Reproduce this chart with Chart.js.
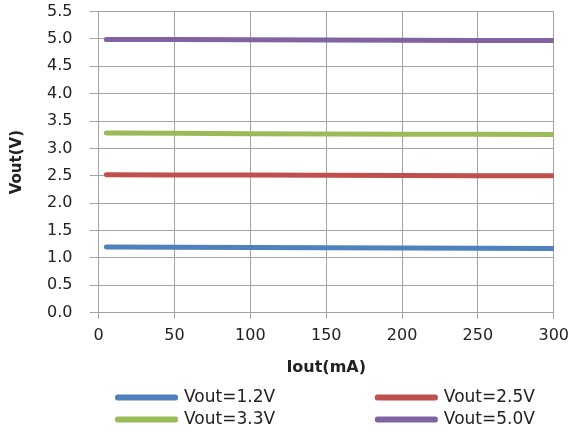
<!DOCTYPE html>
<html><head><meta charset="utf-8">
<script src="https://cdn.jsdelivr.net/npm/chart.js@4"></script>
<style>html,body{margin:0;padding:0;background:#fff}#wrap{width:571px;height:432px;position:relative}</style>
</head><body><div id="wrap"><canvas id="c"></canvas></div>
<script>
const currents = [5, 50, 100, 150, 200, 250, 300];
const vout12 = [1.20, 1.195, 1.19, 1.185, 1.18, 1.175, 1.17];
const vout25 = [2.52, 2.515, 2.515, 2.51, 2.505, 2.50, 2.50];
const vout33 = [3.28, 3.275, 3.27, 3.265, 3.26, 3.26, 3.255];
const vout50 = [4.99, 4.99, 4.985, 4.98, 4.975, 4.97, 4.97];
const seriesNames = ['Vout=1.2V', 'Vout=2.5V', 'Vout=3.3V', 'Vout=5.0V'];
const seriesColors = ['#4F81BD', '#C0504D', '#9BBB59', '#8064A2'];
const xTickValues = [0, 50, 100, 150, 200, 250, 300];
const yTickValues = [0, 0.5, 1, 1.5, 2, 2.5, 3, 3.5, 4, 4.5, 5, 5.5];
const xTitle = 'Iout(mA)';
const yTitle = 'Vout(V)';

const seriesValues = [vout12, vout25, vout33, vout50];
const gridColor = '#a3a3a3';
const NBSP = '\u00A0';

const datasets = seriesValues.map((vals, i) => ({
  label: seriesNames[i],
  data: vals.map((v, j) => ({x: currents[j], y: v})),
  borderColor: seriesColors[i],
  backgroundColor: seriesColors[i],
  borderWidth: 5,
  borderCapStyle: 'round',
  borderJoinStyle: 'round',
  pointRadius: 0,
  tension: 0
}));

new Chart(document.getElementById('c'), {
  type: 'line',
  data: {datasets},
  options: {
    responsive: true,
    maintainAspectRatio: false,
    animation: false,
    layout: {padding: {left: 4, right: 0, top: 2, bottom: -6}},
    plugins: {
      tooltip: {enabled: false},
      legend: {
        position: 'bottom',
        fullSize: false,
        align: 'center',
        labels: {
          font: {family: 'DejaVu Sans', size: 17},
          color: '#222',
          boxWidth: 58,
          boxHeight: 1,
          padding: 5,
          generateLabels(chart) {
            const items = Chart.defaults.plugins.legend.labels.generateLabels(chart);
            items.forEach((it, i) => {
              if (i % 2 === 0) it.text = it.text + NBSP.repeat(18);
            });
            return items;
          }
        }
      }
    },
    scales: {
      x: {
        type: 'linear',
        min: 0, max: 300,
        afterBuildTicks: s => { s.ticks = xTickValues.map(v => ({value: v})); },
        grid: {color: gridColor, lineWidth: 1, tickLength: 6, drawTicks: true},
        border: {color: gridColor},
        ticks: {font: {family: 'DejaVu Sans', size: 16, lineHeight: 1.95}, color: '#222', padding: 2, maxRotation: 0},
        title: {display: true, text: xTitle, font: {family: 'DejaVu Sans', size: 16, weight: 'bold'}, color: '#222', padding: {top: 4, bottom: 7}}
      },
      y: {
        type: 'linear',
        min: 0, max: 5.5,
        afterBuildTicks: s => { s.ticks = yTickValues.map(v => ({value: v})); },
        grid: {color: gridColor, lineWidth: 1, tickLength: 9, drawTicks: true},
        border: {color: gridColor},
        ticks: {font: {family: 'DejaVu Sans', size: 16}, color: '#222', padding: 2, callback: v => Number(v).toFixed(1) + NBSP.repeat(3)},
        title: {display: true, text: yTitle, font: {family: 'DejaVu Sans', size: 15, weight: 'bold'}, color: '#222', padding: {top: 4, bottom: 19}}
      }
    }
  }
});
</script>
</body></html>
